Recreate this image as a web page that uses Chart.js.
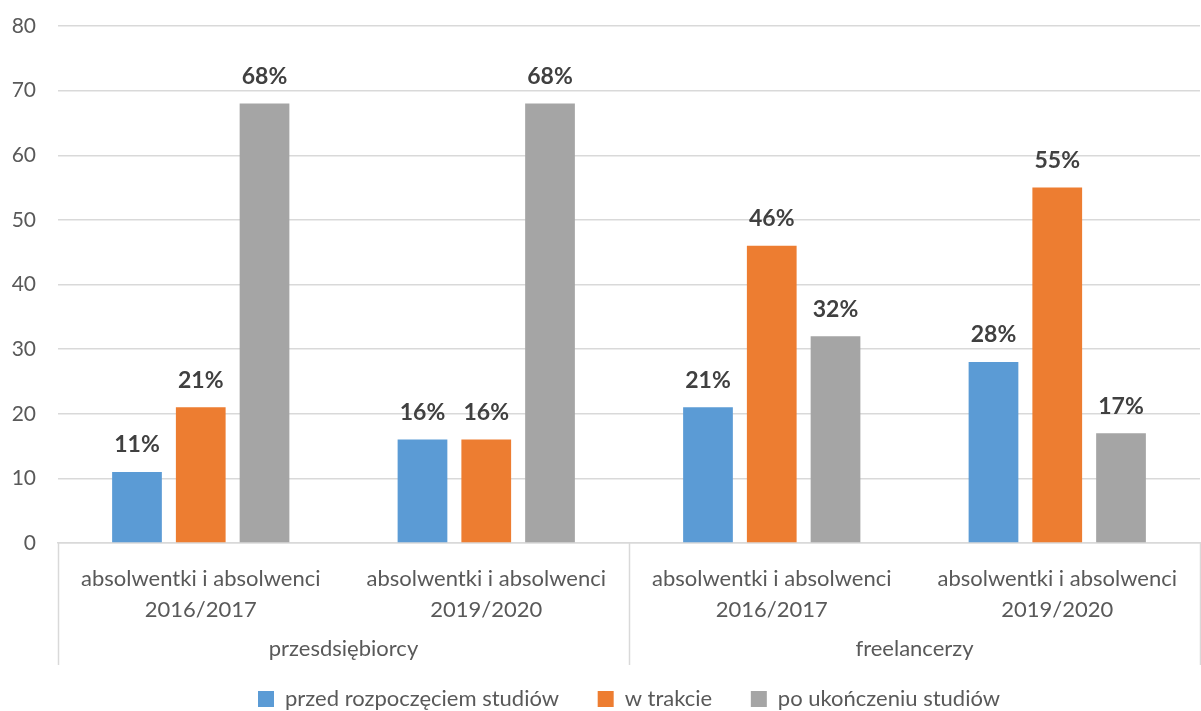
<!DOCTYPE html>
<html>
<head>
<meta charset="utf-8">
<script src="https://cdn.jsdelivr.net/npm/chart.js@4"></script>
<style>
  html, body { margin: 0; padding: 0; background: #fff; }
  #wrap { width: 1201px; height: 711px; }
</style>
</head>
<body>
<div id="wrap"><canvas id="chart" width="1201" height="711"></canvas></div>
<script>
// ---- data ----
const categories = [
  ["absolwentki i absolwenci", "2016/2017"],
  ["absolwentki i absolwenci", "2019/2020"],
  ["absolwentki i absolwenci", "2016/2017"],
  ["absolwentki i absolwenci", "2019/2020"]
];
const groups = ["przesdsiębiorcy", "freelancerzy"];
const seriesNames = ["przed rozpoczęciem studiów", "w trakcie", "po ukończeniu studiów"];
const przed = [11, 16, 21, 28];
const wTrakcie = [21, 16, 46, 55];
const po = [68, 68, 32, 17];
const yTicks = [0, 10, 20, 30, 40, 50, 60, 70, 80];

const colors = ["#5B9BD5", "#ED7D31", "#A5A5A5"];
const FONT = "Lato, 'Open Sans', sans-serif";
const TEXT = "#595959";
const GRID = "#D9D9D9";

// --- value labels above bars ---
const barLabels = {
  id: "barLabels",
  afterDatasetsDraw(chart) {
    const ctx = chart.ctx;
    ctx.save();
    ctx.font = "bold 23px " + FONT;
    ctx.fillStyle = "#404040";
    ctx.textAlign = "center";
    ctx.textBaseline = "middle";
    chart.data.datasets.forEach((ds, i) => {
      chart.getDatasetMeta(i).data.forEach((bar, j) => {
        ctx.fillText(ds.data[j] + "%", bar.x, bar.y - 27);
      });
    });
    ctx.restore();
  }
};

// --- group separators on the category axis ---
const groupLines = {
  id: "groupLines",
  afterDraw(chart) {
    const x = chart.scales.x, x2 = chart.scales.x2;
    const ctx = chart.ctx;
    const half = (x.getPixelForValue(1) - x.getPixelForValue(0)) / 2;
    const top = chart.chartArea.bottom;
    const bottom = x2.top + 42;
    ctx.save();
    ctx.strokeStyle = GRID;
    ctx.lineWidth = 1.5;
    [0, 2, 4].forEach(k => {
      const px = Math.round(x.getPixelForValue(k) - half) + 0.5;
      ctx.beginPath();
      ctx.moveTo(px, top);
      ctx.lineTo(px, bottom);
      ctx.stroke();
    });
    ctx.restore();
  }
};

// wider gaps between legend items (spaces after all but the last)
function legendLabels(chart) {
  const items = Chart.defaults.plugins.legend.labels.generateLabels(chart);
  return items.map((it, i) => ({ ...it, text: i < items.length - 1 ? it.text + "\u2002\u2002\u2002 " : it.text }));
}

new Chart(document.getElementById("chart"), {
  type: "bar",
  data: {
    labels: categories,
    datasets: [
      { label: seriesNames[0], data: przed, backgroundColor: colors[0] },
      { label: seriesNames[1], data: wTrakcie, backgroundColor: colors[1] },
      { label: seriesNames[2], data: po, backgroundColor: colors[2] }
    ]
  },
  options: {
    responsive: false,
    animation: false,
    layout: { autoPadding: false, padding: { top: 26, right: 1, left: 0, bottom: -9 } },
    datasets: { bar: { categoryPercentage: 0.67, barPercentage: 0.78 } },
    plugins: {
      tooltip: { enabled: false },
      legend: {
        position: "bottom",
        fullSize: false,
        labels: {
          font: { family: FONT, size: 22 },
          color: TEXT,
          boxWidth: 16,
          boxHeight: 16,
          padding: 0,
          generateLabels: legendLabels
        }
      }
    },
    scales: {
      x: {
        grid: { display: false, drawTicks: false },
        border: { display: true, color: GRID, width: 1.5 },
        ticks: { color: TEXT, font: { family: FONT, size: 22, lineHeight: 1.4 }, padding: 21, maxRotation: 0, autoSkip: false },
        afterFit: s => { s.height = 80; }
      },
      x2: {
        type: "category",
        labels: groups,
        position: "bottom",
        offset: true,
        grid: { display: false, drawTicks: false },
        border: { display: false },
        ticks: { color: TEXT, font: { family: FONT, size: 22 }, padding: 13 },
        afterFit: s => { s.height = 65; }
      },
      y: {
        min: 0,
        max: 80,
        afterBuildTicks: s => { s.ticks = yTicks.map(v => ({ value: v })); },
        grid: { color: GRID, lineWidth: 1.5, drawTicks: false },
        border: { display: false },
        ticks: { color: TEXT, font: { family: FONT, size: 21 }, padding: 22 },
        afterFit: s => { s.width = 58; s.paddingTop = 0; s.paddingBottom = 0; }
      }
    }
  },
  plugins: [barLabels, groupLines]
});
</script>
</body>
</html>
